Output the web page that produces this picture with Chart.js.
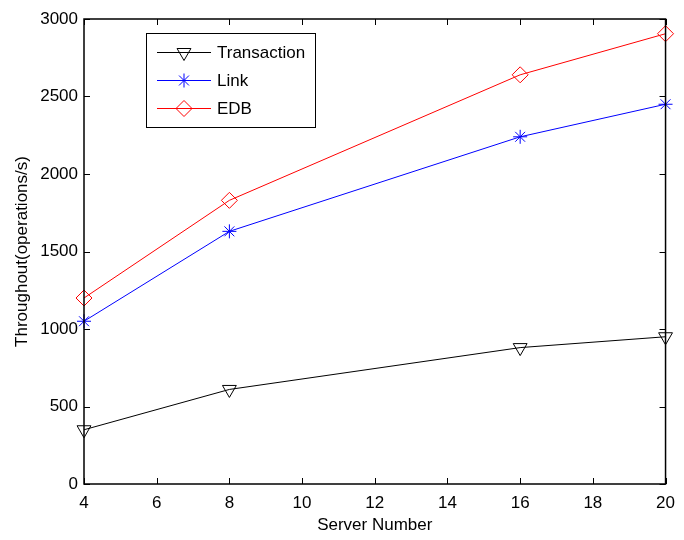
<!DOCTYPE html>
<html>
<head>
<meta charset="utf-8">
<script src="https://cdn.jsdelivr.net/npm/chart.js@4"></script>
<style>
  html, body { margin: 0; padding: 0; background: #fff; }
  #wrap { width: 684px; height: 540px; }
</style>
</head>
<body>
<div id="wrap"><canvas id="c" width="684" height="540"></canvas></div>
<script>
const serverNumbers = [4, 8, 16, 20];
const transaction = [350, 610, 880, 950];
const link = [1050, 1630, 2240, 2450];
const edb = [1200, 1830, 2640, 2905];

const FONT = 'Arial, "Liberation Sans", sans-serif';

function toPoints(values) {
  return serverNumbers.map((x, i) => ({ x, y: values[i] }));
}

// MATLAB style box with inward ticks on all four sides
const boxPlugin = {
  id: 'box',
  afterDraw(chart) {
    const { ctx, chartArea: a, scales } = chart;
    ctx.save();
    ctx.strokeStyle = '#000';
    ctx.lineWidth = 1;
    ctx.beginPath();
    scales.x.ticks.forEach(t => {
      const px = Math.round(scales.x.getPixelForValue(t.value)) + 0.5;
      ctx.moveTo(px, a.bottom); ctx.lineTo(px, a.bottom - 6);
      ctx.moveTo(px, a.top); ctx.lineTo(px, a.top + 6);
    });
    scales.y.ticks.forEach(t => {
      const py = Math.round(scales.y.getPixelForValue(t.value)) + 0.5;
      ctx.moveTo(a.left, py); ctx.lineTo(a.left + 6, py);
      ctx.moveTo(a.right, py); ctx.lineTo(a.right - 6, py);
    });
    ctx.stroke();
    ctx.lineWidth = 1.5;
    ctx.strokeRect(a.left, a.top, a.right - a.left, a.bottom - a.top);
    ctx.restore();
  }
};

// Legend box drawn from the datasets' own styles
const legendBox = {
  id: 'legendBox',
  afterDraw(chart) {
    const { ctx } = chart;
    const x0 = 146, y0 = 33, w = 169, h = 94;
    ctx.save();
    ctx.fillStyle = '#fff';
    ctx.fillRect(x0, y0, w, h);
    ctx.strokeStyle = '#000';
    ctx.lineWidth = 1;
    ctx.strokeRect(x0 + 0.5, y0 + 0.5, w, h);
    chart.data.datasets.forEach((ds, i) => {
      const y = y0 + 19 + i * 28;
      ctx.strokeStyle = ds.borderColor;
      ctx.lineWidth = 1;
      ctx.beginPath();
      ctx.moveTo(157, y + 0.5); ctx.lineTo(211, y + 0.5);
      ctx.stroke();
      ctx.fillStyle = 'rgba(0,0,0,0)';
      ctx.strokeStyle = ds.borderColor;
      Chart.helpers.drawPoint(ctx, {
        pointStyle: ds.pointStyle,
        radius: ds.pointRadius,
        rotation: ds.pointRotation || 0,
        borderWidth: 1
      }, 184, y + 0.5);
      ctx.fillStyle = '#000';
      ctx.font = '17px ' + FONT;
      ctx.textBaseline = 'middle';
      ctx.fillText(ds.label, 217, y + 1);
    });
    ctx.restore();
  }
};

new Chart(document.getElementById('c'), {
  type: 'line',
  data: {
    datasets: [
      {
        label: 'Transaction',
        data: toPoints(transaction),
        borderColor: '#000',
        backgroundColor: 'rgba(0,0,0,0)',
        pointStyle: 'triangle',
        pointRotation: 180,
        pointRadius: 8,
        pointBorderWidth: 1,
        borderWidth: 1
      },
      {
        label: 'Link',
        data: toPoints(link),
        borderColor: '#0000ff',
        backgroundColor: 'rgba(0,0,0,0)',
        pointStyle: 'star',
        pointRadius: 7,
        pointBorderWidth: 1,
        borderWidth: 1
      },
      {
        label: 'EDB',
        data: toPoints(edb),
        borderColor: '#ff0000',
        backgroundColor: 'rgba(0,0,0,0)',
        pointStyle: 'rectRot',
        pointRadius: 8,
        pointBorderWidth: 1,
        borderWidth: 1
      }
    ]
  },
  options: {
    responsive: false,
    animation: false,
    clip: false,
    layout: { padding: { left: 0, top: 19, right: 17, bottom: 0 } },
    plugins: { legend: { display: false }, tooltip: { enabled: false } },
    scales: {
      x: {
        type: 'linear',
        min: 4, max: 20,
        grid: { display: false, drawTicks: false },
        border: { display: false },
        ticks: { stepSize: 2, color: '#000', font: { family: FONT, size: 17 }, padding: 9,
                 callback: v => String(v) },
        title: { display: true, text: 'Server Number', color: '#000', font: { family: FONT, size: 17 }, padding: { top: 0 } },
        afterFit(scale) { scale.height = 56; }
      },
      y: {
        min: 0, max: 3000,
        grid: { display: false, drawTicks: false },
        border: { display: false },
        ticks: { stepSize: 500, color: '#000', font: { family: FONT, size: 17 }, padding: 6,
                 callback: v => String(v) },
        title: { display: true, text: 'Throughout(operations/s)', color: '#000', font: { family: FONT, size: 17 }, padding: { top: 12, bottom: 4 } },
        afterFit(scale) { scale.width = 84; }
      }
    }
  },
  plugins: [boxPlugin, legendBox]
});
</script>
</body>
</html>
